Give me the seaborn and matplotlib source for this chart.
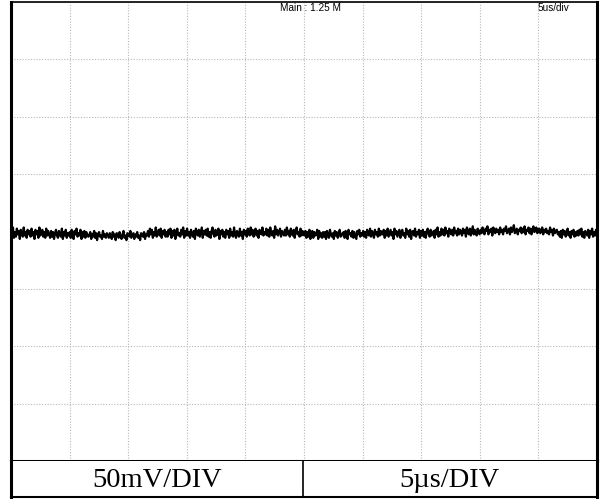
import numpy as np
import matplotlib
matplotlib.use("Agg")
import matplotlib.pyplot as plt
import seaborn as sns

# -----------------------------
# DATA (mV around the centre line)
# -----------------------------
baseline_mv = -1.5
trace_mv = [
    3, -2, 5, -4, 1, -3, 4, -1, 2, -5, 3, 0, -3, 5, -2, 1, -4, 3, -1, 2,
    -3, 4, -2, 1, -5, 3, -1, 2, -4, 5, -2, 0, 3, -3, 1, -4, 4, -2, 2, -1,
    -4, 2, -3, 1, -5, 0, 3, -2, -4, 2, -1, -3, 4, -5, 1, -2, 3, -4, 0, -2,
    1, -4, 3, -2, -5, 2, -1, 4, -3, 0, -2, 3, -5, 1, -3, 2, -4, 1, -1, -3,
    -2, 1, -5, -1, -3, 2, -4, 0, -6, -1, 1, -3, -2, -5, 2, -3, -1, -4, 0, -2,
    -4, 0, -2, -5, 1, -3, -1, -6, 0, -2, -4, 1, -3, -5, -1, 2, -4, -2, -6, 0,
    -1, -3, 2, -4, -2, 0, -5, -1, -3, 1, -4, -2, -6, 0, -2, -3, 1, -5, -1, -2,
    2, -3, 4, -1, 3, -4, 1, -2, 5, -3, 0, 3, -2, 4, -4, 2, -1, 3, -3, 1,
    -3, 3, -1, 4, -4, 2, -2, 3, -5, 1, 4, -2, 0, -3, 3, -1, 5, -4, 2, -2,
    4, -2, 1, -4, 3, -1, -3, 2, -5, 4, 0, -2, 3, -3, 1, 5, -4, 2, -1, 3,
    -2, 4, -3, 1, -4, 2, 5, -1, -3, 3, -2, 0, 4, -5, 2, -1, 3, -3, 1, -4,
    3, -1, 2, -4, 4, -2, 1, -3, 5, -1, -4, 2, 0, -3, 4, -2, 1, -5, 3, -1,
    2, -3, 4, 0, -2, 5, -1, 3, -3, 1, 4, -2, 2, -4, 3, 0, -1, 5, -2, 1,
    -1, 4, -2, 3, -3, 5, 0, -2, 2, -4, 6, -1, 3, -2, 1, 4, -3, 2, 0, -2,
    3, -2, 5, -1, 2, -3, 4, 0, -2, 3, -4, 2, 5, -1, 1, -3, 4, -2, 2, -1,
    -2, 2, -4, 1, -3, 3, -5, 0, 2, -4, 1, -2, -1, 3, -5, 2, -3, 0, -4, 1,
    -3, 1, -5, 2, -2, -4, 3, -1, -3, 0, -5, 2, -2, 1, -4, -1, 3, -3, -2, 0,
    1, -4, 2, -2, -5, 3, -1, 0, -3, 2, -4, 1, -2, -5, 2, -1, 3, -3, 0, -2,
    2, -3, 1, -4, 3, -1, -2, 4, -3, 2, 0, -4, 3, -1, 1, -3, 4, -2, 2, -1,
    -1, 3, -4, 2, -2, 4, -3, 0, 3, -2, 1, -5, 4, -1, 2, -3, 0, 3, -4, 1,
    3, -2, 0, -4, 4, -1, 2, -3, 3, -5, 1, 2, -2, 4, -3, 1, -1, 3, -4, 2,
    -2, 3, -3, 1, -4, 2, 4, -1, -3, 3, -2, 0, 2, -4, 3, -1, 5, -3, 1, -2,
    4, -1, 3, -2, 5, 0, 2, -3, 4, 1, -1, 3, -2, 5, 0, 2, -2, 4, -1, 3,
    1, -2, 4, 0, 3, -3, 5, 1, -1, 4, -2, 2, 6, -1, 3, 0, -2, 4, 1, -1,
    3, 0, 5, 1, -1, 4, 2, 6, -1, 3, 1, 4, -2, 5, 2, 0, 4, 1, 3, -1,
    5, 1, 3, -1, 4, 2, 6, 0, 2, 4, -1, 5, 1, 3, 7, 0, 2, 4, -1, 3,
    2, 5, 0, 4, 1, 6, -1, 3, 2, 5, 0, 4, -1, 3, 6, 1, 2, 5, 0, 3,
    4, 0, 2, 5, -1, 3, 1, 4, 0, 2, -1, 5, 1, 3, -2, 4, 0, 2, 3, -1,
    1, -3, 2, -4, 3, -1, 2, -3, 0, 4, -2, 1, -4, 2, -1, 3, -3, 1, -2, 2,
    -2, 3, -1, 4, -3, 1, -4, 2, 0, -2, 3, -4, 2, -1, 4, -3, 1, -2, 3, -1,
]
time_span_us = 50          # 10 div x 5 us
volt_span_mv = 400         # 8 div x 50 mV
header_left = "Main : 1.25 M"
header_right = "5us/div"
footer_labels = ["50mV/DIV", "5\u00b5s/DIV"]

# -----------------------------
# FIGURE
# -----------------------------
sns.set_style("white")
fig = plt.figure(figsize=(6.0, 4.99), dpi=100)

x0, w = 11 / 600, 586 / 600
ax = fig.add_axes([x0, 38 / 499, w, 459 / 499])
tab = fig.add_axes([x0, 2 / 499, w, 36 / 499])

t = np.linspace(0, time_span_us, len(trace_mv))
sns.lineplot(x=t, y=np.array(trace_mv) + baseline_mv, ax=ax,
             color="black", linewidth=1.6)

ax.set_xlim(0, time_span_us)
ax.set_ylim(-volt_span_mv / 2, volt_span_mv / 2)
ax.set_xticks(np.arange(0, time_span_us + 1, 5))
ax.set_yticks(np.arange(-volt_span_mv / 2, volt_span_mv / 2 + 1, 50))
ax.tick_params(length=0, labelbottom=False, labelleft=False)
ax.grid(True, color="#b8b8b8", linestyle=(0, (1, 1.5)), linewidth=0.8)
ax.set_xlabel("")
ax.set_ylabel("")

for side, lw in {"left": 2.2, "right": 2.2, "top": 1.2, "bottom": 2.2}.items():
    ax.spines[side].set_visible(True)
    ax.spines[side].set_color("black")
    ax.spines[side].set_linewidth(lw)

txt_font = ["Liberation Sans", "DejaVu Sans"]
ax.text(0.459, 0.997, header_left, transform=ax.transAxes, ha="left", va="top",
        fontsize=7.2, color="black", family=txt_font)
ax.text(0.898, 0.997, header_right, transform=ax.transAxes, ha="left", va="top",
        fontsize=7.2, color="black", family=txt_font)

# -----------------------------
# FOOTER TABLE
# -----------------------------
tab.set_xlim(0, 1)
tab.set_ylim(0, 1)
tab.set_xticks([])
tab.set_yticks([])
for side, lw in {"left": 2.2, "right": 2.2, "top": 0, "bottom": 1.5}.items():
    tab.spines[side].set_visible(lw > 0)
    tab.spines[side].set_color("black")
    tab.spines[side].set_linewidth(lw)
tab.axvline(0.498, color="black", linewidth=1.2)
tab.text(0.249, 0.45, footer_labels[0], ha="center", va="center",
         fontsize=20.5, color="black", family=["Liberation Serif", "DejaVu Serif"])
tab.text(0.749, 0.45, footer_labels[1], ha="center", va="center",
         fontsize=20.5, color="black", family=["Liberation Serif", "DejaVu Serif"])

fig.savefig("out.png", dpi=100)
